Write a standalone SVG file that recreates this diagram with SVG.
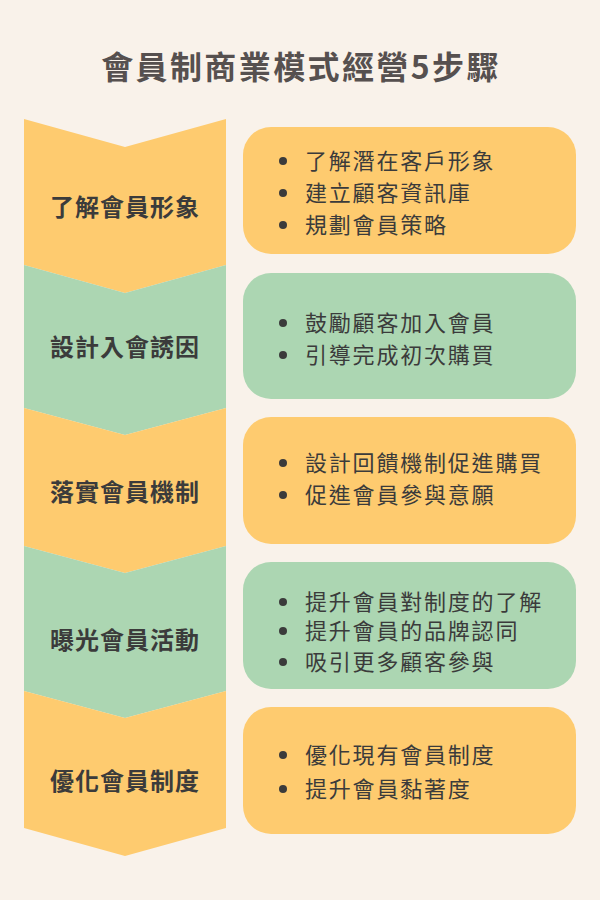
<svg xmlns="http://www.w3.org/2000/svg" width="600" height="900" viewBox="0 0 600 900">
<style>
.bg{fill:#F9F2EA}
.y{fill:#FECB6F}
.g{fill:#ACD6B2}
.title{font-family:"Noto Sans CJK TC","Noto Sans CJK SC",sans-serif;font-weight:700;font-size:32px;fill:#56504F;letter-spacing:2.4px;text-anchor:middle}
.lab{font-family:"Noto Sans CJK TC","Noto Sans CJK SC",sans-serif;font-weight:700;font-size:24px;fill:#3B3B3B;letter-spacing:1px;text-anchor:middle}
.item{font-family:"Noto Sans CJK TC","Noto Sans CJK SC",sans-serif;font-weight:400;font-size:22px;fill:#3B3B3B;letter-spacing:1.8px}
.dot{fill:#3B3B3B}
</style>
<rect class="bg" x="0" y="0" width="600" height="900"/>
<text class="title" x="301" y="79">會員制商業模式經營5步驟</text>

<g id="step1">
<polygon class="y" points="24,119 125,147 226,119 226,265 125,293 24,265"/>
<text class="lab" x="125" y="216">了解會員形象</text>
</g>
<g id="step2">
<polygon class="g" points="24,265 125,293 226,265 226,408 125,435 24,408"/>
<text class="lab" x="125" y="356">設計入會誘因</text>
</g>
<g id="step3">
<polygon class="y" points="24,408 125,435 226,408 226,546 125,573 24,546"/>
<text class="lab" x="125" y="501">落實會員機制</text>
</g>
<g id="step4">
<polygon class="g" points="24,546 125,573 226,546 226,691 125,718 24,691"/>
<text class="lab" x="125" y="649">曝光會員活動</text>
</g>
<g id="step5">
<polygon class="y" points="24,691 125,718 226,691 226,828 125,856 24,828"/>
<text class="lab" x="125" y="790">優化會員制度</text>
</g>

<g id="box1">
<rect class="y" x="243" y="127" width="333" height="127" rx="28"/>
<circle class="dot" cx="283" cy="161" r="4"/><text class="item" x="305" y="169">了解潛在客戶形象</text>
<circle class="dot" cx="283" cy="193" r="4"/><text class="item" x="305" y="201">建立顧客資訊庫</text>
<circle class="dot" cx="283" cy="225" r="4"/><text class="item" x="305" y="233">規劃會員策略</text>
</g>
<g id="box2">
<rect class="g" x="243" y="273" width="333" height="126" rx="28"/>
<circle class="dot" cx="283" cy="323" r="4"/><text class="item" x="305" y="331">鼓勵顧客加入會員</text>
<circle class="dot" cx="283" cy="355" r="4"/><text class="item" x="305" y="363">引導完成初次購買</text>
</g>
<g id="box3">
<rect class="y" x="243" y="417" width="333" height="127" rx="28"/>
<circle class="dot" cx="283" cy="463" r="4"/><text class="item" x="305" y="471">設計回饋機制促進購買</text>
<circle class="dot" cx="283" cy="495" r="4"/><text class="item" x="305" y="503">促進會員參與意願</text>
</g>
<g id="box4">
<rect class="g" x="243" y="562" width="333" height="127" rx="28"/>
<circle class="dot" cx="283" cy="602" r="4"/><text class="item" x="305" y="610">提升會員對制度的了解</text>
<circle class="dot" cx="283" cy="631" r="4"/><text class="item" x="305" y="639">提升會員的品牌認同</text>
<circle class="dot" cx="283" cy="662" r="4"/><text class="item" x="305" y="670">吸引更多顧客參與</text>
</g>
<g id="box5">
<rect class="y" x="243" y="707" width="333" height="127" rx="28"/>
<circle class="dot" cx="283" cy="755" r="4"/><text class="item" x="305" y="763">優化現有會員制度</text>
<circle class="dot" cx="283" cy="789" r="4"/><text class="item" x="305" y="797">提升會員黏著度</text>
</g>
<g id="connectors"/>
</svg>
